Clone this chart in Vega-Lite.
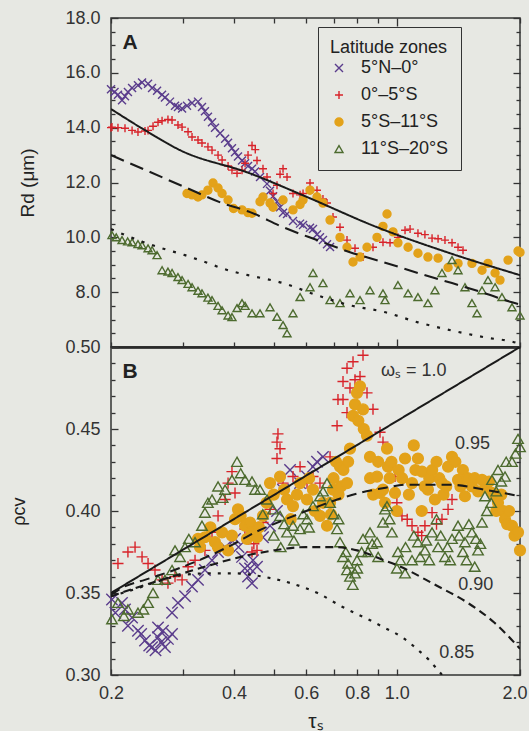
{
"$schema": "https://vega.github.io/schema/vega-lite/v6.json",
"background": "#e7e8e3",
"autosize": {"type": "none"},
"padding": {"left": 111, "top": 18, "right": 418, "bottom": 713},
"spacing": 0,
"bounds": "flush",
"config": {
  "font": "Liberation Sans",
  "view": {"stroke": "#333333", "strokeWidth": 1.5},
  "axis": {"grid": false, "domain": false, "tickColor": "#333333", "tickWidth": 1.3, "labelFont": "Liberation Sans", "labelFontSize": 18, "labelColor": "#333333", "titleFont": "Liberation Sans", "titleColor": "#222222", "titleFontWeight": "normal", "labelOverlap": false, "labelFlush": false},
  "legend": {"orient": "none", "legendX": 207, "legendY": 9, "padding": 12, "strokeColor": "#333333", "fillColor": "#e7e8e3", "titleFont": "Liberation Sans", "titleFontSize": 18, "titleFontWeight": "normal", "titleColor": "#222222", "labelFont": "Liberation Sans", "labelFontSize": 18, "labelColor": "#222222", "rowPadding": 9, "titlePadding": 2, "labelOffset": 13, "symbolStrokeWidth": 1.4}
},
"resolve": {"scale": {"shape": "independent", "stroke": "independent", "fill": "independent", "size": "independent", "strokeDash": "independent", "strokeWidth": "independent"}},
"datasets": {
"ptsA": [
{"z":"5°N–0°","t":0.2,"v":15.4},{"z":"5°N–0°","t":0.204,"v":15.3},{"z":"5°N–0°","t":0.208,"v":15.2},{"z":"5°N–0°","t":0.2128,"v":15.0},{"z":"5°N–0°","t":0.2164,"v":15.15},{"z":"5°N–0°","t":0.22,"v":15.3},{"z":"5°N–0°","t":0.2252,"v":15.45},{"z":"5°N–0°","t":0.2328,"v":15.55},{"z":"5°N–0°","t":0.2382,"v":15.65},{"z":"5°N–0°","t":0.2464,"v":15.6},{"z":"5°N–0°","t":0.252,"v":15.45},{"z":"5°N–0°","t":0.2592,"v":15.35},{"z":"5°N–0°","t":0.2666,"v":15.2},{"z":"5°N–0°","t":0.271,"v":15.1},{"z":"5°N–0°","t":0.2788,"v":14.95},{"z":"5°N–0°","t":0.2868,"v":14.8},{"z":"5°N–0°","t":0.2916,"v":14.75},{"z":"5°N–0°","t":0.2984,"v":14.7},{"z":"5°N–0°","t":0.3068,"v":14.8},{"z":"5°N–0°","t":0.3156,"v":14.9},{"z":"5°N–0°","t":0.3264,"v":14.95},{"z":"5°N–0°","t":0.3338,"v":14.75},{"z":"5°N–0°","t":0.3394,"v":14.6},{"z":"5°N–0°","t":0.3452,"v":14.4},{"z":"5°N–0°","t":0.3532,"v":14.2},{"z":"5°N–0°","t":0.3592,"v":14.0},{"z":"5°N–0°","t":0.3696,"v":13.8},{"z":"5°N–0°","t":0.3802,"v":13.6},{"z":"5°N–0°","t":0.3866,"v":13.45},{"z":"5°N–0°","t":0.3952,"v":13.25},{"z":"5°N–0°","t":0.402,"v":13.1},{"z":"5°N–0°","t":0.4088,"v":12.95},{"z":"5°N–0°","t":0.4182,"v":12.8},{"z":"5°N–0°","t":0.4254,"v":12.7},{"z":"5°N–0°","t":0.4326,"v":12.6},{"z":"5°N–0°","t":0.4424,"v":12.5},{"z":"5°N–0°","t":0.45,"v":12.4},{"z":"5°N–0°","t":0.4628,"v":12.2},{"z":"5°N–0°","t":0.4814,"v":11.95},{"z":"5°N–0°","t":0.4896,"v":11.7},{"z":"5°N–0°","t":0.498,"v":11.5},{"z":"5°N–0°","t":0.5092,"v":11.3},{"z":"5°N–0°","t":0.518,"v":11.1},{"z":"5°N–0°","t":0.5268,"v":10.9},{"z":"5°N–0°","t":0.5388,"v":10.85},{"z":"5°N–0°","t":0.5572,"v":10.6},{"z":"5°N–0°","t":0.5798,"v":10.5},{"z":"5°N–0°","t":0.5896,"v":10.45},{"z":"5°N–0°","t":0.6132,"v":10.35},{"z":"5°N–0°","t":0.6236,"v":10.3},{"z":"5°N–0°","t":0.6378,"v":10.1},{"z":"5°N–0°","t":0.6486,"v":10.0},{"z":"5°N–0°","t":0.6596,"v":9.9},{"z":"5°N–0°","t":0.6748,"v":9.75},{"z":"5°N–0°","t":0.6864,"v":9.65},
{"z":"0°–5°S","t":0.2,"v":14.0},{"z":"0°–5°S","t":0.2011,"v":14.02},{"z":"0°–5°S","t":0.208,"v":14.0},{"z":"0°–5°S","t":0.2164,"v":13.98},{"z":"0°–5°S","t":0.2252,"v":13.9},{"z":"0°–5°S","t":0.2328,"v":13.84},{"z":"0°–5°S","t":0.2422,"v":13.88},{"z":"0°–5°S","t":0.2464,"v":13.9},{"z":"0°–5°S","t":0.2534,"v":14.05},{"z":"0°–5°S","t":0.2606,"v":14.2},{"z":"0°–5°S","t":0.2666,"v":14.25},{"z":"0°–5°S","t":0.2756,"v":14.3},{"z":"0°–5°S","t":0.282,"v":14.28},{"z":"0°–5°S","t":0.2916,"v":14.1},{"z":"0°–5°S","t":0.2984,"v":14.02},{"z":"0°–5°S","t":0.3086,"v":13.85},{"z":"0°–5°S","t":0.3156,"v":13.66},{"z":"0°–5°S","t":0.3264,"v":13.55},{"z":"0°–5°S","t":0.3338,"v":13.44},{"z":"0°–5°S","t":0.3452,"v":13.3},{"z":"0°–5°S","t":0.3532,"v":13.18},{"z":"0°–5°S","t":0.3654,"v":13.0},{"z":"0°–5°S","t":0.3738,"v":12.82},{"z":"0°–5°S","t":0.3866,"v":12.6},{"z":"0°–5°S","t":0.3952,"v":12.45},{"z":"0°–5°S","t":0.4066,"v":12.34},{"z":"0°–5°S","t":0.4182,"v":12.45},{"z":"0°–5°S","t":0.4254,"v":12.7},{"z":"0°–5°S","t":0.4326,"v":13.0},{"z":"0°–5°S","t":0.4424,"v":13.35},{"z":"0°–5°S","t":0.4506,"v":13.2},{"z":"0°–5°S","t":0.455,"v":12.8},{"z":"0°–5°S","t":0.4706,"v":12.5},{"z":"0°–5°S","t":0.4814,"v":12.2},{"z":"0°–5°S","t":0.498,"v":11.6},{"z":"0°–5°S","t":0.5092,"v":11.9},{"z":"0°–5°S","t":0.518,"v":12.3},{"z":"0°–5°S","t":0.5268,"v":12.5},{"z":"0°–5°S","t":0.5388,"v":12.2},{"z":"0°–5°S","t":0.5572,"v":11.6},{"z":"0°–5°S","t":0.5798,"v":11.55},{"z":"0°–5°S","t":0.5896,"v":11.6},{"z":"0°–5°S","t":0.6132,"v":11.98},{"z":"0°–5°S","t":0.6378,"v":11.72},{"z":"0°–5°S","t":0.6596,"v":11.4},{"z":"0°–5°S","t":0.6748,"v":11.25},{"z":"0°–5°S","t":0.698,"v":10.74},{"z":"0°–5°S","t":0.726,"v":10.37},{"z":"0°–5°S","t":0.7552,"v":9.9},{"z":"0°–5°S","t":0.79,"v":9.6},{"z":"0°–5°S","t":0.8264,"v":9.28},{"z":"0°–5°S","t":0.8742,"v":9.64},{"z":"0°–5°S","t":0.9248,"v":9.82},{"z":"0°–5°S","t":0.9622,"v":9.8},{"z":"0°–5°S","t":1.006,"v":10.0},{"z":"0°–5°S","t":1.047,"v":10.26},{"z":"0°–5°S","t":1.077,"v":10.3},{"z":"0°–5°S","t":1.126,"v":10.15},{"z":"0°–5°S","t":1.171,"v":10.1},{"z":"0°–5°S","t":1.219,"v":9.97},{"z":"0°–5°S","t":1.261,"v":9.95},{"z":"0°–5°S","t":1.311,"v":9.9},{"z":"0°–5°S","t":1.364,"v":9.8},{"z":"0°–5°S","t":1.411,"v":9.64},{"z":"0°–5°S","t":1.451,"v":9.53},
{"z":"5°S–11°S","t":0.3068,"v":11.6},{"z":"5°S–11°S","t":0.3156,"v":11.55},{"z":"5°S–11°S","t":0.3264,"v":11.47},{"z":"5°S–11°S","t":0.3338,"v":11.55},{"z":"5°S–11°S","t":0.3452,"v":11.72},{"z":"5°S–11°S","t":0.3552,"v":11.98},{"z":"5°S–11°S","t":0.3654,"v":11.8},{"z":"5°S–11°S","t":0.3738,"v":11.6},{"z":"5°S–11°S","t":0.3866,"v":11.36},{"z":"5°S–11°S","t":0.3986,"v":11.05},{"z":"5°S–11°S","t":0.4182,"v":11.0},{"z":"5°S–11°S","t":0.4326,"v":10.9},{"z":"5°S–11°S","t":0.4424,"v":10.88},{"z":"5°S–11°S","t":0.4628,"v":11.3},{"z":"5°S–11°S","t":0.4706,"v":11.47},{"z":"5°S–11°S","t":0.4896,"v":11.25},{"z":"5°S–11°S","t":0.498,"v":11.1},{"z":"5°S–11°S","t":0.5268,"v":11.36},{"z":"5°S–11°S","t":0.5572,"v":11.0},{"z":"5°S–11°S","t":0.5798,"v":11.2},{"z":"5°S–11°S","t":0.5896,"v":11.36},{"z":"5°S–11°S","t":0.6132,"v":11.72},{"z":"5°S–11°S","t":0.6378,"v":11.47},{"z":"5°S–11°S","t":0.6596,"v":11.25},{"z":"5°S–11°S","t":0.6864,"v":10.63},{"z":"5°S–11°S","t":0.726,"v":10.0},{"z":"5°S–11°S","t":0.7552,"v":9.64},{"z":"5°S–11°S","t":0.7812,"v":9.1},{"z":"5°S–11°S","t":0.8126,"v":9.28},{"z":"5°S–11°S","t":0.8452,"v":9.64},{"z":"5°S–11°S","t":0.8942,"v":10.0},{"z":"5°S–11°S","t":0.9248,"v":10.4},{"z":"5°S–11°S","t":0.946,"v":10.85},{"z":"5°S–11°S","t":0.9784,"v":10.2},{"z":"5°S–11°S","t":1.006,"v":9.8},{"z":"5°S–11°S","t":1.065,"v":9.64},{"z":"5°S–11°S","t":1.126,"v":9.42},{"z":"5°S–11°S","t":1.191,"v":9.28},{"z":"5°S–11°S","t":1.261,"v":9.24},{"z":"5°S–11°S","t":1.334,"v":8.9},{"z":"5°S–11°S","t":1.411,"v":9.05},{"z":"5°S–11°S","t":1.526,"v":9.05},{"z":"5°S–11°S","t":1.615,"v":8.8},{"z":"5°S–11°S","t":1.67,"v":9.05},{"z":"5°S–11°S","t":1.738,"v":8.7},{"z":"5°S–11°S","t":1.787,"v":8.44},{"z":"5°S–11°S","t":1.87,"v":9.17},{"z":"5°S–11°S","t":1.978,"v":9.5},{"z":"5°S–11°S","t":2.0,"v":9.45},
{"z":"11°S–20°S","t":0.2011,"v":10.08},{"z":"11°S–20°S","t":0.206,"v":10.0},{"z":"11°S–20°S","t":0.2128,"v":9.9},{"z":"11°S–20°S","t":0.2196,"v":9.85},{"z":"11°S–20°S","t":0.2252,"v":9.82},{"z":"11°S–20°S","t":0.2328,"v":9.75},{"z":"11°S–20°S","t":0.2382,"v":9.71},{"z":"11°S–20°S","t":0.2464,"v":9.6},{"z":"11°S–20°S","t":0.252,"v":9.53},{"z":"11°S–20°S","t":0.2592,"v":9.35},{"z":"11°S–20°S","t":0.2666,"v":8.8},{"z":"11°S–20°S","t":0.2756,"v":8.75},{"z":"11°S–20°S","t":0.282,"v":8.7},{"z":"11°S–20°S","t":0.2916,"v":8.55},{"z":"11°S–20°S","t":0.2984,"v":8.44},{"z":"11°S–20°S","t":0.3086,"v":8.3},{"z":"11°S–20°S","t":0.3156,"v":8.18},{"z":"11°S–20°S","t":0.3264,"v":8.05},{"z":"11°S–20°S","t":0.3338,"v":7.96},{"z":"11°S–20°S","t":0.3452,"v":7.8},{"z":"11°S–20°S","t":0.3532,"v":7.71},{"z":"11°S–20°S","t":0.3654,"v":7.5},{"z":"11°S–20°S","t":0.3738,"v":7.34},{"z":"11°S–20°S","t":0.3866,"v":7.15},{"z":"11°S–20°S","t":0.3952,"v":7.09},{"z":"11°S–20°S","t":0.4066,"v":7.42},{"z":"11°S–20°S","t":0.4182,"v":7.6},{"z":"11°S–20°S","t":0.4254,"v":7.5},{"z":"11°S–20°S","t":0.4424,"v":7.23},{"z":"11°S–20°S","t":0.4628,"v":7.23},{"z":"11°S–20°S","t":0.4896,"v":7.45},{"z":"11°S–20°S","t":0.5092,"v":7.1},{"z":"11°S–20°S","t":0.5268,"v":6.8},{"z":"11°S–20°S","t":0.5388,"v":6.5},{"z":"11°S–20°S","t":0.5572,"v":7.23},{"z":"11°S–20°S","t":0.5798,"v":7.82},{"z":"11°S–20°S","t":0.6132,"v":8.18},{"z":"11°S–20°S","t":0.6236,"v":8.7},{"z":"11°S–20°S","t":0.6596,"v":8.33},{"z":"11°S–20°S","t":0.6864,"v":7.71},{"z":"11°S–20°S","t":0.726,"v":7.6},{"z":"11°S–20°S","t":0.768,"v":7.96},{"z":"11°S–20°S","t":0.8126,"v":7.71},{"z":"11°S–20°S","t":0.8596,"v":8.07},{"z":"11°S–20°S","t":0.9248,"v":7.96},{"z":"11°S–20°S","t":0.9354,"v":7.71},{"z":"11°S–20°S","t":1.006,"v":8.26},{"z":"11°S–20°S","t":1.065,"v":7.96},{"z":"11°S–20°S","t":1.126,"v":7.82},{"z":"11°S–20°S","t":1.191,"v":7.6},{"z":"11°S–20°S","t":1.239,"v":8.07},{"z":"11°S–20°S","t":1.289,"v":8.7},{"z":"11°S–20°S","t":1.364,"v":9.17},{"z":"11°S–20°S","t":1.411,"v":8.8},{"z":"11°S–20°S","t":1.467,"v":8.18},{"z":"11°S–20°S","t":1.526,"v":7.6},{"z":"11°S–20°S","t":1.57,"v":7.23},{"z":"11°S–20°S","t":1.615,"v":8.07},{"z":"11°S–20°S","t":1.67,"v":8.44},{"z":"11°S–20°S","t":1.738,"v":8.18},{"z":"11°S–20°S","t":1.807,"v":7.82},{"z":"11°S–20°S","t":1.912,"v":7.45},{"z":"11°S–20°S","t":2.0,"v":7.15}
],
"linA": [
{"k":"s","t":0.2,"v":14.68},{"k":"s","t":0.242,"v":13.91},{"k":"s","t":0.295,"v":13.18},{"k":"s","t":0.436,"v":12.34},{"k":"s","t":0.603,"v":11.47},{"k":"s","t":0.894,"v":10.37},{"k":"s","t":1.349,"v":9.42},{"k":"s","t":2.0,"v":8.62},
{"k":"d","t":0.2,"v":13.0},{"k":"d","t":0.3034,"v":11.83},{"k":"d","t":0.3738,"v":11.25},{"k":"d","t":0.4376,"v":10.92},{"k":"d","t":0.5268,"v":10.37},{"k":"d","t":0.6378,"v":9.9},{"k":"d","t":0.768,"v":9.46},{"k":"d","t":0.9248,"v":9.1},{"k":"d","t":1.126,"v":8.7},{"k":"d","t":1.364,"v":8.33},{"k":"d","t":1.642,"v":7.96},{"k":"d","t":1.912,"v":7.63},{"k":"d","t":2.0,"v":7.55},
{"k":"o","t":0.2,"v":10.3},{"k":"o","t":0.2328,"v":9.9},{"k":"o","t":0.2666,"v":9.6},{"k":"o","t":0.3034,"v":9.35},{"k":"o","t":0.3394,"v":9.1},{"k":"o","t":0.3866,"v":8.8},{"k":"o","t":0.4326,"v":8.62},{"k":"o","t":0.5268,"v":8.33},{"k":"o","t":0.6378,"v":7.89},{"k":"o","t":0.768,"v":7.52},{"k":"o","t":0.93,"v":7.28},{"k":"o","t":1.126,"v":6.9},{"k":"o","t":1.364,"v":6.6},{"k":"o","t":1.642,"v":6.35},{"k":"o","t":1.978,"v":6.13},{"k":"o","t":2.0,"v":6.1}
],
"ptsB": [
{"z":"5°N–0°","t":0.2011,"v":0.346},{"z":"5°N–0°","t":0.205,"v":0.338},{"z":"5°N–0°","t":0.2128,"v":0.344},{"z":"5°N–0°","t":0.2164,"v":0.34},{"z":"5°N–0°","t":0.22,"v":0.33},{"z":"5°N–0°","t":0.2252,"v":0.335},{"z":"5°N–0°","t":0.2328,"v":0.327},{"z":"5°N–0°","t":0.237,"v":0.325},{"z":"5°N–0°","t":0.2422,"v":0.321},{"z":"5°N–0°","t":0.248,"v":0.318},{"z":"5°N–0°","t":0.252,"v":0.317},{"z":"5°N–0°","t":0.257,"v":0.315},{"z":"5°N–0°","t":0.2606,"v":0.323},{"z":"5°N–0°","t":0.2606,"v":0.329},{"z":"5°N–0°","t":0.265,"v":0.32},{"z":"5°N–0°","t":0.268,"v":0.327},{"z":"5°N–0°","t":0.271,"v":0.317},{"z":"5°N–0°","t":0.2756,"v":0.322},{"z":"5°N–0°","t":0.282,"v":0.325},{"z":"5°N–0°","t":0.282,"v":0.338},{"z":"5°N–0°","t":0.2916,"v":0.344},{"z":"5°N–0°","t":0.3034,"v":0.348},{"z":"5°N–0°","t":0.3156,"v":0.354},{"z":"5°N–0°","t":0.3264,"v":0.358},{"z":"5°N–0°","t":0.3394,"v":0.364},{"z":"5°N–0°","t":0.3532,"v":0.37},{"z":"5°N–0°","t":0.3654,"v":0.375},{"z":"5°N–0°","t":0.3802,"v":0.378},{"z":"5°N–0°","t":0.402,"v":0.383},{"z":"5°N–0°","t":0.41,"v":0.378},{"z":"5°N–0°","t":0.4182,"v":0.372},{"z":"5°N–0°","t":0.425,"v":0.365},{"z":"5°N–0°","t":0.4326,"v":0.36},{"z":"5°N–0°","t":0.4424,"v":0.356},{"z":"5°N–0°","t":0.4376,"v":0.365},{"z":"5°N–0°","t":0.445,"v":0.37},{"z":"5°N–0°","t":0.455,"v":0.366},{"z":"5°N–0°","t":0.4706,"v":0.384},{"z":"5°N–0°","t":0.4896,"v":0.391},{"z":"5°N–0°","t":0.5092,"v":0.4},{"z":"5°N–0°","t":0.5268,"v":0.413},{"z":"5°N–0°","t":0.548,"v":0.425},{"z":"5°N–0°","t":0.5798,"v":0.417},{"z":"5°N–0°","t":0.603,"v":0.421},{"z":"5°N–0°","t":0.6236,"v":0.427},{"z":"5°N–0°","t":0.6378,"v":0.43},{"z":"5°N–0°","t":0.6596,"v":0.433},
{"z":"0°–5°S","t":0.208,"v":0.368},{"z":"0°–5°S","t":0.22,"v":0.375},{"z":"0°–5°S","t":0.229,"v":0.378},{"z":"0°–5°S","t":0.2382,"v":0.372},{"z":"0°–5°S","t":0.2464,"v":0.368},{"z":"0°–5°S","t":0.2562,"v":0.364},{"z":"0°–5°S","t":0.2666,"v":0.358},{"z":"0°–5°S","t":0.2756,"v":0.356},{"z":"0°–5°S","t":0.2868,"v":0.36},{"z":"0°–5°S","t":0.2984,"v":0.358},{"z":"0°–5°S","t":0.3086,"v":0.366},{"z":"0°–5°S","t":0.321,"v":0.37},{"z":"0°–5°S","t":0.3394,"v":0.376},{"z":"0°–5°S","t":0.3532,"v":0.387},{"z":"0°–5°S","t":0.3654,"v":0.397},{"z":"0°–5°S","t":0.3802,"v":0.407},{"z":"0°–5°S","t":0.3866,"v":0.417},{"z":"0°–5°S","t":0.3952,"v":0.424},{"z":"0°–5°S","t":0.402,"v":0.411},{"z":"0°–5°S","t":0.4182,"v":0.395},{"z":"0°–5°S","t":0.425,"v":0.389},{"z":"0°–5°S","t":0.4326,"v":0.383},{"z":"0°–5°S","t":0.4424,"v":0.375},{"z":"0°–5°S","t":0.4376,"v":0.384},{"z":"0°–5°S","t":0.447,"v":0.38},{"z":"0°–5°S","t":0.455,"v":0.376},{"z":"0°–5°S","t":0.4706,"v":0.393},{"z":"0°–5°S","t":0.4896,"v":0.401},{"z":"0°–5°S","t":0.5092,"v":0.432},{"z":"0°–5°S","t":0.5092,"v":0.442},{"z":"0°–5°S","t":0.512,"v":0.447},{"z":"0°–5°S","t":0.518,"v":0.438},{"z":"0°–5°S","t":0.5268,"v":0.417},{"z":"0°–5°S","t":0.5572,"v":0.421},{"z":"0°–5°S","t":0.5798,"v":0.427},{"z":"0°–5°S","t":0.603,"v":0.417},{"z":"0°–5°S","t":0.6236,"v":0.421},{"z":"0°–5°S","t":0.6486,"v":0.417},{"z":"0°–5°S","t":0.6864,"v":0.433},{"z":"0°–5°S","t":0.714,"v":0.452},{"z":"0°–5°S","t":0.7178,"v":0.468},{"z":"0°–5°S","t":0.7384,"v":0.479},{"z":"0°–5°S","t":0.7384,"v":0.468},{"z":"0°–5°S","t":0.7552,"v":0.487},{"z":"0°–5°S","t":0.7552,"v":0.46},{"z":"0°–5°S","t":0.768,"v":0.475},{"z":"0°–5°S","t":0.7812,"v":0.491},{"z":"0°–5°S","t":0.79,"v":0.48},{"z":"0°–5°S","t":0.8126,"v":0.482},{"z":"0°–5°S","t":0.8264,"v":0.495},{"z":"0°–5°S","t":0.8452,"v":0.472},{"z":"0°–5°S","t":0.8742,"v":0.462},{"z":"0°–5°S","t":0.9094,"v":0.448},{"z":"0°–5°S","t":0.9248,"v":0.442},{"z":"0°–5°S","t":0.9514,"v":0.427},{"z":"0°–5°S","t":0.9894,"v":0.421},{"z":"0°–5°S","t":1.0,"v":0.405},{"z":"0°–5°S","t":1.029,"v":0.397},{"z":"0°–5°S","t":1.06,"v":0.395},{"z":"0°–5°S","t":1.089,"v":0.391},{"z":"0°–5°S","t":1.126,"v":0.387},{"z":"0°–5°S","t":1.15,"v":0.385},{"z":"0°–5°S","t":1.171,"v":0.391},{"z":"0°–5°S","t":1.219,"v":0.399},{"z":"0°–5°S","t":1.25,"v":0.392},{"z":"0°–5°S","t":1.289,"v":0.395},{"z":"0°–5°S","t":1.334,"v":0.401},{"z":"0°–5°S","t":1.364,"v":0.407},
{"z":"5°S–11°S","t":0.3264,"v":0.383},{"z":"5°S–11°S","t":0.33,"v":0.378},{"z":"5°S–11°S","t":0.3394,"v":0.384},{"z":"5°S–11°S","t":0.35,"v":0.39},{"z":"5°S–11°S","t":0.3592,"v":0.381},{"z":"5°S–11°S","t":0.365,"v":0.378},{"z":"5°S–11°S","t":0.3738,"v":0.387},{"z":"5°S–11°S","t":0.3866,"v":0.376},{"z":"5°S–11°S","t":0.395,"v":0.385},{"z":"5°S–11°S","t":0.402,"v":0.395},{"z":"5°S–11°S","t":0.4088,"v":0.401},{"z":"5°S–11°S","t":0.415,"v":0.397},{"z":"5°S–11°S","t":0.4254,"v":0.391},{"z":"5°S–11°S","t":0.43,"v":0.383},{"z":"5°S–11°S","t":0.4376,"v":0.393},{"z":"5°S–11°S","t":0.4424,"v":0.387},{"z":"5°S–11°S","t":0.455,"v":0.384},{"z":"5°S–11°S","t":0.46,"v":0.39},{"z":"5°S–11°S","t":0.4706,"v":0.397},{"z":"5°S–11°S","t":0.48,"v":0.405},{"z":"5°S–11°S","t":0.4896,"v":0.417},{"z":"5°S–11°S","t":0.5,"v":0.41},{"z":"5°S–11°S","t":0.518,"v":0.421},{"z":"5°S–11°S","t":0.53,"v":0.413},{"z":"5°S–11°S","t":0.5388,"v":0.407},{"z":"5°S–11°S","t":0.55,"v":0.395},{"z":"5°S–11°S","t":0.5572,"v":0.403},{"z":"5°S–11°S","t":0.57,"v":0.41},{"z":"5°S–11°S","t":0.5798,"v":0.417},{"z":"5°S–11°S","t":0.603,"v":0.407},{"z":"5°S–11°S","t":0.61,"v":0.42},{"z":"5°S–11°S","t":0.6236,"v":0.413},{"z":"5°S–11°S","t":0.63,"v":0.4},{"z":"5°S–11°S","t":0.6486,"v":0.397},{"z":"5°S–11°S","t":0.66,"v":0.405},{"z":"5°S–11°S","t":0.6748,"v":0.391},{"z":"5°S–11°S","t":0.6864,"v":0.405},{"z":"5°S–11°S","t":0.69,"v":0.398},{"z":"5°S–11°S","t":0.698,"v":0.413},{"z":"5°S–11°S","t":0.7,"v":0.42},{"z":"5°S–11°S","t":0.71,"v":0.43},{"z":"5°S–11°S","t":0.72,"v":0.41},{"z":"5°S–11°S","t":0.726,"v":0.427},{"z":"5°S–11°S","t":0.73,"v":0.415},{"z":"5°S–11°S","t":0.74,"v":0.425},{"z":"5°S–11°S","t":0.7552,"v":0.417},{"z":"5°S–11°S","t":0.76,"v":0.43},{"z":"5°S–11°S","t":0.768,"v":0.438},{"z":"5°S–11°S","t":0.7812,"v":0.458},{"z":"5°S–11°S","t":0.79,"v":0.465},{"z":"5°S–11°S","t":0.799,"v":0.472},{"z":"5°S–11°S","t":0.805,"v":0.455},{"z":"5°S–11°S","t":0.8126,"v":0.476},{"z":"5°S–11°S","t":0.8264,"v":0.462},{"z":"5°S–11°S","t":0.83,"v":0.45},{"z":"5°S–11°S","t":0.8452,"v":0.446},{"z":"5°S–11°S","t":0.8596,"v":0.433},{"z":"5°S–11°S","t":0.86,"v":0.42},{"z":"5°S–11°S","t":0.875,"v":0.41},{"z":"5°S–11°S","t":0.8942,"v":0.421},{"z":"5°S–11°S","t":0.9,"v":0.43},{"z":"5°S–11°S","t":0.9094,"v":0.411},{"z":"5°S–11°S","t":0.9248,"v":0.413},{"z":"5°S–11°S","t":0.9354,"v":0.405},{"z":"5°S–11°S","t":0.946,"v":0.438},{"z":"5°S–11°S","t":0.9514,"v":0.427},{"z":"5°S–11°S","t":0.96,"v":0.42},{"z":"5°S–11°S","t":0.97,"v":0.43},{"z":"5°S–11°S","t":0.9894,"v":0.411},{"z":"5°S–11°S","t":1.0,"v":0.4},{"z":"5°S–11°S","t":1.01,"v":0.425},{"z":"5°S–11°S","t":1.03,"v":0.42},{"z":"5°S–11°S","t":1.047,"v":0.432},{"z":"5°S–11°S","t":1.07,"v":0.41},{"z":"5°S–11°S","t":1.089,"v":0.417},{"z":"5°S–11°S","t":1.1,"v":0.44},{"z":"5°S–11°S","t":1.11,"v":0.425},{"z":"5°S–11°S","t":1.126,"v":0.432},{"z":"5°S–11°S","t":1.15,"v":0.4},{"z":"5°S–11°S","t":1.152,"v":0.424},{"z":"5°S–11°S","t":1.17,"v":0.415},{"z":"5°S–11°S","t":1.191,"v":0.413},{"z":"5°S–11°S","t":1.2,"v":0.42},{"z":"5°S–11°S","t":1.22,"v":0.425},{"z":"5°S–11°S","t":1.239,"v":0.407},{"z":"5°S–11°S","t":1.25,"v":0.43},{"z":"5°S–11°S","t":1.27,"v":0.42},{"z":"5°S–11°S","t":1.289,"v":0.417},{"z":"5°S–11°S","t":1.3,"v":0.41},{"z":"5°S–11°S","t":1.32,"v":0.415},{"z":"5°S–11°S","t":1.334,"v":0.427},{"z":"5°S–11°S","t":1.364,"v":0.433},{"z":"5°S–11°S","t":1.39,"v":0.43},{"z":"5°S–11°S","t":1.411,"v":0.419},{"z":"5°S–11°S","t":1.43,"v":0.415},{"z":"5°S–11°S","t":1.45,"v":0.425},{"z":"5°S–11°S","t":1.467,"v":0.409},{"z":"5°S–11°S","t":1.49,"v":0.42},{"z":"5°S–11°S","t":1.526,"v":0.415},{"z":"5°S–11°S","t":1.55,"v":0.42},{"z":"5°S–11°S","t":1.58,"v":0.412},{"z":"5°S–11°S","t":1.615,"v":0.419},{"z":"5°S–11°S","t":1.65,"v":0.415},{"z":"5°S–11°S","t":1.68,"v":0.418},{"z":"5°S–11°S","t":1.708,"v":0.411},{"z":"5°S–11°S","t":1.73,"v":0.41},{"z":"5°S–11°S","t":1.75,"v":0.4},{"z":"5°S–11°S","t":1.767,"v":0.405},{"z":"5°S–11°S","t":1.8,"v":0.41},{"z":"5°S–11°S","t":1.82,"v":0.4},{"z":"5°S–11°S","t":1.838,"v":0.395},{"z":"5°S–11°S","t":1.86,"v":0.392},{"z":"5°S–11°S","t":1.88,"v":0.4},{"z":"5°S–11°S","t":1.912,"v":0.391},{"z":"5°S–11°S","t":1.94,"v":0.385},{"z":"5°S–11°S","t":1.978,"v":0.387},{"z":"5°S–11°S","t":2.0,"v":0.376},
{"z":"11°S–20°S","t":0.2011,"v":0.334},{"z":"11°S–20°S","t":0.208,"v":0.344},{"z":"11°S–20°S","t":0.215,"v":0.336},{"z":"11°S–20°S","t":0.22,"v":0.34},{"z":"11°S–20°S","t":0.2328,"v":0.338},{"z":"11°S–20°S","t":0.24,"v":0.34},{"z":"11°S–20°S","t":0.2464,"v":0.344},{"z":"11°S–20°S","t":0.2534,"v":0.35},{"z":"11°S–20°S","t":0.2606,"v":0.358},{"z":"11°S–20°S","t":0.271,"v":0.358},{"z":"11°S–20°S","t":0.282,"v":0.364},{"z":"11°S–20°S","t":0.2868,"v":0.376},{"z":"11°S–20°S","t":0.295,"v":0.372},{"z":"11°S–20°S","t":0.3034,"v":0.378},{"z":"11°S–20°S","t":0.31,"v":0.383},{"z":"11°S–20°S","t":0.321,"v":0.381},{"z":"11°S–20°S","t":0.3338,"v":0.391},{"z":"11°S–20°S","t":0.3394,"v":0.399},{"z":"11°S–20°S","t":0.345,"v":0.405},{"z":"11°S–20°S","t":0.3532,"v":0.407},{"z":"11°S–20°S","t":0.3654,"v":0.415},{"z":"11°S–20°S","t":0.375,"v":0.408},{"z":"11°S–20°S","t":0.3802,"v":0.413},{"z":"11°S–20°S","t":0.3952,"v":0.419},{"z":"11°S–20°S","t":0.4066,"v":0.43},{"z":"11°S–20°S","t":0.415,"v":0.423},{"z":"11°S–20°S","t":0.4254,"v":0.419},{"z":"11°S–20°S","t":0.4424,"v":0.418},{"z":"11°S–20°S","t":0.45,"v":0.413},{"z":"11°S–20°S","t":0.4628,"v":0.413},{"z":"11°S–20°S","t":0.47,"v":0.398},{"z":"11°S–20°S","t":0.4814,"v":0.407},{"z":"11°S–20°S","t":0.498,"v":0.401},{"z":"11°S–20°S","t":0.5,"v":0.385},{"z":"11°S–20°S","t":0.518,"v":0.397},{"z":"11°S–20°S","t":0.52,"v":0.378},{"z":"11°S–20°S","t":0.53,"v":0.392},{"z":"11°S–20°S","t":0.5388,"v":0.387},{"z":"11°S–20°S","t":0.5572,"v":0.391},{"z":"11°S–20°S","t":0.56,"v":0.382},{"z":"11°S–20°S","t":0.5798,"v":0.389},{"z":"11°S–20°S","t":0.59,"v":0.398},{"z":"11°S–20°S","t":0.603,"v":0.395},{"z":"11°S–20°S","t":0.61,"v":0.39},{"z":"11°S–20°S","t":0.6236,"v":0.403},{"z":"11°S–20°S","t":0.6486,"v":0.409},{"z":"11°S–20°S","t":0.66,"v":0.412},{"z":"11°S–20°S","t":0.6748,"v":0.417},{"z":"11°S–20°S","t":0.6864,"v":0.405},{"z":"11°S–20°S","t":0.7,"v":0.398},{"z":"11°S–20°S","t":0.714,"v":0.389},{"z":"11°S–20°S","t":0.72,"v":0.395},{"z":"11°S–20°S","t":0.726,"v":0.381},{"z":"11°S–20°S","t":0.7384,"v":0.372},{"z":"11°S–20°S","t":0.75,"v":0.375},{"z":"11°S–20°S","t":0.7552,"v":0.364},{"z":"11°S–20°S","t":0.76,"v":0.368},{"z":"11°S–20°S","t":0.768,"v":0.36},{"z":"11°S–20°S","t":0.78,"v":0.355},{"z":"11°S–20°S","t":0.79,"v":0.362},{"z":"11°S–20°S","t":0.799,"v":0.37},{"z":"11°S–20°S","t":0.8,"v":0.365},{"z":"11°S–20°S","t":0.82,"v":0.375},{"z":"11°S–20°S","t":0.8264,"v":0.383},{"z":"11°S–20°S","t":0.85,"v":0.375},{"z":"11°S–20°S","t":0.8596,"v":0.387},{"z":"11°S–20°S","t":0.87,"v":0.38},{"z":"11°S–20°S","t":0.8942,"v":0.381},{"z":"11°S–20°S","t":0.9,"v":0.372},{"z":"11°S–20°S","t":0.9248,"v":0.393},{"z":"11°S–20°S","t":0.9354,"v":0.401},{"z":"11°S–20°S","t":0.946,"v":0.403},{"z":"11°S–20°S","t":0.96,"v":0.395},{"z":"11°S–20°S","t":0.9728,"v":0.387},{"z":"11°S–20°S","t":1.0,"v":0.365},{"z":"11°S–20°S","t":1.006,"v":0.375},{"z":"11°S–20°S","t":1.02,"v":0.37},{"z":"11°S–20°S","t":1.047,"v":0.362},{"z":"11°S–20°S","t":1.05,"v":0.378},{"z":"11°S–20°S","t":1.089,"v":0.37},{"z":"11°S–20°S","t":1.1,"v":0.385},{"z":"11°S–20°S","t":1.126,"v":0.381},{"z":"11°S–20°S","t":1.14,"v":0.372},{"z":"11°S–20°S","t":1.171,"v":0.376},{"z":"11°S–20°S","t":1.18,"v":0.382},{"z":"11°S–20°S","t":1.2,"v":0.37},{"z":"11°S–20°S","t":1.219,"v":0.387},{"z":"11°S–20°S","t":1.25,"v":0.395},{"z":"11°S–20°S","t":1.261,"v":0.378},{"z":"11°S–20°S","t":1.28,"v":0.385},{"z":"11°S–20°S","t":1.311,"v":0.372},{"z":"11°S–20°S","t":1.33,"v":0.378},{"z":"11°S–20°S","t":1.35,"v":0.37},{"z":"11°S–20°S","t":1.364,"v":0.383},{"z":"11°S–20°S","t":1.411,"v":0.391},{"z":"11°S–20°S","t":1.42,"v":0.385},{"z":"11°S–20°S","t":1.45,"v":0.375},{"z":"11°S–20°S","t":1.467,"v":0.381},{"z":"11°S–20°S","t":1.48,"v":0.37},{"z":"11°S–20°S","t":1.5,"v":0.392},{"z":"11°S–20°S","t":1.526,"v":0.387},{"z":"11°S–20°S","t":1.55,"v":0.366},{"z":"11°S–20°S","t":1.56,"v":0.383},{"z":"11°S–20°S","t":1.579,"v":0.376},{"z":"11°S–20°S","t":1.6,"v":0.38},{"z":"11°S–20°S","t":1.615,"v":0.393},{"z":"11°S–20°S","t":1.642,"v":0.409},{"z":"11°S–20°S","t":1.66,"v":0.4},{"z":"11°S–20°S","t":1.7,"v":0.405},{"z":"11°S–20°S","t":1.708,"v":0.419},{"z":"11°S–20°S","t":1.75,"v":0.412},{"z":"11°S–20°S","t":1.767,"v":0.425},{"z":"11°S–20°S","t":1.8,"v":0.418},{"z":"11°S–20°S","t":1.838,"v":0.421},{"z":"11°S–20°S","t":1.85,"v":0.43},{"z":"11°S–20°S","t":1.912,"v":0.43},{"z":"11°S–20°S","t":1.95,"v":0.435},{"z":"11°S–20°S","t":1.978,"v":0.444},{"z":"11°S–20°S","t":2.0,"v":0.439}
],
"linB": [
{"k":"w10","t":0.2,"v":0.35},{"k":"w10","t":2.0,"v":0.5},
{"k":"w95","t":0.2,"v":0.349},{"k":"w95","t":0.216,"v":0.354},{"k":"w95","t":0.242,"v":0.358},{"k":"w95","t":0.3,"v":0.366},{"k":"w95","t":0.35,"v":0.373},{"k":"w95","t":0.4,"v":0.38},{"k":"w95","t":0.45,"v":0.387},{"k":"w95","t":0.5,"v":0.392},{"k":"w95","t":0.6,"v":0.4},{"k":"w95","t":0.715,"v":0.407},{"k":"w95","t":0.842,"v":0.412},{"k":"w95","t":0.93,"v":0.414},{"k":"w95","t":1.05,"v":0.416},{"k":"w95","t":1.35,"v":0.416},{"k":"w95","t":1.64,"v":0.413},{"k":"w95","t":2.0,"v":0.409},
{"k":"w90","t":0.2,"v":0.348},{"k":"w90","t":0.25,"v":0.356},{"k":"w90","t":0.3,"v":0.362},{"k":"w90","t":0.35,"v":0.367},{"k":"w90","t":0.4,"v":0.371},{"k":"w90","t":0.5,"v":0.376},{"k":"w90","t":0.6,"v":0.378},{"k":"w90","t":0.7,"v":0.378},{"k":"w90","t":0.8,"v":0.376},{"k":"w90","t":0.93,"v":0.37},{"k":"w90","t":1.0,"v":0.367},{"k":"w90","t":1.24,"v":0.355},{"k":"w90","t":1.49,"v":0.344},{"k":"w90","t":1.73,"v":0.332},{"k":"w90","t":2.0,"v":0.316},
{"k":"w85","t":0.2,"v":0.348},{"k":"w85","t":0.233,"v":0.353},{"k":"w85","t":0.26,"v":0.357},{"k":"w85","t":0.3,"v":0.361},{"k":"w85","t":0.35,"v":0.362},{"k":"w85","t":0.4,"v":0.362},{"k":"w85","t":0.47,"v":0.36},{"k":"w85","t":0.55,"v":0.356},{"k":"w85","t":0.64,"v":0.35},{"k":"w85","t":0.73,"v":0.342},{"k":"w85","t":0.85,"v":0.334},{"k":"w85","t":0.93,"v":0.329},{"k":"w85","t":1.03,"v":0.323},{"k":"w85","t":1.13,"v":0.315},{"k":"w85","t":1.2,"v":0.309},{"k":"w85","t":1.26,"v":0.303},{"k":"w85","t":1.33,"v":0.296}
]
},
"vconcat": [
{
 "width": 409, "height": 329,
 "layer": [
  {"data": {"name": "ptsA"},
   "mark": {"type": "point", "opacity": 1, "strokeWidth": 1.4},
   "encoding": {
    "x": {"field": "t", "type": "quantitative", "scale": {"type": "log", "domain": [0.2, 2], "nice": false},
          "axis": {"orient": "bottom", "values": [0.2,0.3,0.4,0.5,0.6,0.7,0.8,0.9,1,2], "labels": false, "title": null, "domain": true, "domainWidth": 2.5, "domainColor": "#111111", "tickSize": {"condition": {"test": "datum.value==1", "value": -8}, "value": -5}}},
    "y": {"field": "v", "type": "quantitative", "scale": {"domain": [6, 18], "nice": false, "zero": false},
          "axis": {"orient": "left", "values": [6,6.5,7,7.5,8,8.5,9,9.5,10,10.5,11,11.5,12,12.5,13,13.5,14,14.5,15,15.5,16,16.5,17,17.5,18], "labelExpr": "datum.value>=8 && datum.value%2==0 ? format(datum.value,'.1f') : ''", "tickSize": {"condition": {"test": "datum.value%2==0", "value": -7}, "value": -4}, "labelPadding": 18, "title": "Rd (μm)", "titleFontSize": 19, "titlePadding": 27}},
    "shape": {"field": "z", "type": "nominal", "scale": {"domain": ["5°N–0°","0°–5°S","5°S–11°S","11°S–20°S"], "range": ["M-1,-1L1,1M-1,1L1,-1","M-1,0L1,0M0,-1L0,1","circle","triangle-up"]}, "legend": {"title": "Latitude zones"}},
    "stroke": {"field": "z", "type": "nominal", "scale": {"domain": ["5°N–0°","0°–5°S","5°S–11°S","11°S–20°S"], "range": ["#5a3c8c","#d8232a","#e3a21a","#4d6b2f"]}, "legend": {"title": "Latitude zones"}},
    "fill": {"field": "z", "type": "nominal", "scale": {"domain": ["5°N–0°","0°–5°S","5°S–11°S","11°S–20°S"], "range": ["transparent","transparent","#e3a21a","transparent"]}, "legend": {"title": "Latitude zones"}},
    "size": {"field": "z", "type": "nominal", "scale": {"domain": ["5°N–0°","0°–5°S","5°S–11°S","11°S–20°S"], "range": [64,64,60,28]}, "legend": {"title": "Latitude zones"}}
   }},
  {"data": {"name": "linA"},
   "mark": {"type": "line", "color": "#1a1a1a", "clip": true, "interpolate": "monotone", "strokeCap": "butt"},
   "encoding": {
    "x": {"field": "t", "type": "quantitative", "scale": {"type": "log", "domain": [0.2, 2], "nice": false},
          "axis": {"orient": "top", "values": [0.2,0.3,0.4,0.5,0.6,0.7,0.8,0.9,1,2], "labels": false, "title": null, "tickSize": {"condition": {"test": "datum.value==1", "value": -8}, "value": -5}}},
    "y": {"field": "v", "type": "quantitative", "scale": {"domain": [6, 18], "nice": false, "zero": false},
          "axis": {"orient": "right", "values": [6,6.5,7,7.5,8,8.5,9,9.5,10,10.5,11,11.5,12,12.5,13,13.5,14,14.5,15,15.5,16,16.5,17,17.5,18], "labels": false, "title": null, "tickSize": {"condition": {"test": "datum.value%2==0", "value": -7}, "value": -4}}},
    "detail": {"field": "k"},
    "strokeDash": {"field": "k", "type": "nominal", "scale": {"domain": ["s","d","o"], "range": [[1,0],[14,7],[3,8]]}, "legend": null},
    "strokeWidth": {"field": "k", "type": "nominal", "scale": {"domain": ["s","d","o"], "range": [2,2.2,3.5]}, "legend": null}
   }},
  {"data": {"values": [{}]},
   "mark": {"type": "text", "text": "A", "fontSize": 21, "fontWeight": "bold", "color": "#222222", "align": "center", "baseline": "middle"},
   "encoding": {"x": {"datum": 0.2226, "type": "quantitative", "axis": null}, "y": {"datum": 17.1, "type": "quantitative", "axis": null}}}
 ]
},
{
 "width": 409, "height": 328,
 "layer": [
  {"data": {"name": "ptsB"},
   "mark": {"type": "point", "opacity": 1, "strokeWidth": 1.4},
   "encoding": {
    "x": {"field": "t", "type": "quantitative", "scale": {"type": "log", "domain": [0.2, 2], "nice": false},
          "axis": {"orient": "bottom", "values": [0.2,0.3,0.4,0.5,0.6,0.7,0.8,0.9,1,2], "labelExpr": "(datum.value==0.2||datum.value==0.4||datum.value==0.6||datum.value==0.8||datum.value==1||datum.value==2) ? format(datum.value,'.1f') : ''", "tickSize": -6, "labelPadding": 15, "labelFlush": false, "labelAlign": {"condition": {"test": "datum.value==2", "value": "right"}, "value": "center"}, "labelOffset": {"condition": {"test": "datum.value==2", "value": 7}, "value": 0}, "title": "τₛ", "titleFontSize": 21, "titlePadding": 8}},
    "y": {"field": "v", "type": "quantitative", "scale": {"domain": [0.3, 0.5], "nice": false, "zero": false},
          "axis": {"orient": "left", "values": [0.3,0.31,0.32,0.33,0.34,0.35,0.36,0.37,0.38,0.39,0.4,0.41,0.42,0.43,0.44,0.45,0.46,0.47,0.48,0.49,0.5], "labelExpr": "abs(datum.value*20-round(datum.value*20))<0.0001 ? format(datum.value,'.2f') : ''", "tickSize": {"condition": {"test": "abs(datum.value*20-round(datum.value*20))<0.0001", "value": -7}, "value": -4}, "labelPadding": 18, "title": "ρcv", "titleFontSize": 18, "titlePadding": 36}},
    "shape": {"field": "z", "type": "nominal", "scale": {"domain": ["5°N–0°","0°–5°S","5°S–11°S","11°S–20°S"], "range": ["M-1,-1L1,1M-1,1L1,-1","M-1,0L1,0M0,-1L0,1","circle","triangle-up"]}, "legend": null},
    "stroke": {"field": "z", "type": "nominal", "scale": {"domain": ["5°N–0°","0°–5°S","5°S–11°S","11°S–20°S"], "range": ["#5a3c8c","#d8232a","#e3a21a","#4d6b2f"]}, "legend": null},
    "fill": {"field": "z", "type": "nominal", "scale": {"domain": ["5°N–0°","0°–5°S","5°S–11°S","11°S–20°S"], "range": ["transparent","transparent","#e3a21a","transparent"]}, "legend": null},
    "size": {"field": "z", "type": "nominal", "scale": {"domain": ["5°N–0°","0°–5°S","5°S–11°S","11°S–20°S"], "range": [130,110,58,65]}, "legend": null}
   }},
  {"data": {"name": "linB"},
   "mark": {"type": "line", "color": "#1a1a1a", "clip": true, "interpolate": "monotone", "strokeCap": "butt"},
   "encoding": {
    "x": {"field": "t", "type": "quantitative", "scale": {"type": "log", "domain": [0.2, 2], "nice": false},
          "axis": {"orient": "top", "values": [0.2,0.3,0.4,0.5,0.6,0.7,0.8,0.9,1,2], "ticks": false, "labels": false, "domain": false, "title": null}},
    "y": {"field": "v", "type": "quantitative", "scale": {"domain": [0.3, 0.5], "nice": false, "zero": false},
          "axis": {"orient": "right", "values": [0.3,0.31,0.32,0.33,0.34,0.35,0.36,0.37,0.38,0.39,0.4,0.41,0.42,0.43,0.44,0.45,0.46,0.47,0.48,0.49,0.5], "labels": false, "title": null, "tickSize": {"condition": {"test": "abs(datum.value*20-round(datum.value*20))<0.0001", "value": -7}, "value": -4}}},
    "detail": {"field": "k"},
    "strokeDash": {"field": "k", "type": "nominal", "scale": {"domain": ["w10","w95","w90","w85"], "range": [[1,0],[10,6],[8,5],[3,7]]}, "legend": null},
    "strokeWidth": {"field": "k", "type": "nominal", "scale": {"domain": ["w10","w95","w90","w85"], "range": [2,2.2,2.2,3.5]}, "legend": null}
   }},
  {"data": {"values": [{}]},
   "mark": {"type": "text", "text": "B", "fontSize": 21, "fontWeight": "bold", "color": "#222222", "align": "center", "baseline": "middle"},
   "encoding": {"x": {"datum": 0.2226, "type": "quantitative", "axis": null}, "y": {"datum": 0.4847, "type": "quantitative", "axis": null}}},
  {"data": {"values": [{}]},
   "mark": {"type": "text", "text": "ωₛ = 1.0", "fontSize": 18, "color": "#333333", "align": "center", "baseline": "middle"},
   "encoding": {"x": {"datum": 1.10, "type": "quantitative", "axis": null}, "y": {"datum": 0.4853, "type": "quantitative", "axis": null}}},
  {"data": {"values": [{}]},
   "mark": {"type": "text", "text": "0.95", "fontSize": 18, "color": "#333333", "align": "center", "baseline": "middle"},
   "encoding": {"x": {"datum": 1.53, "type": "quantitative", "axis": null}, "y": {"datum": 0.4407, "type": "quantitative", "axis": null}}},
  {"data": {"values": [{}]},
   "mark": {"type": "text", "text": "0.90", "fontSize": 18, "color": "#333333", "align": "center", "baseline": "middle"},
   "encoding": {"x": {"datum": 1.56, "type": "quantitative", "axis": null}, "y": {"datum": 0.355, "type": "quantitative", "axis": null}}},
  {"data": {"values": [{}]},
   "mark": {"type": "text", "text": "0.85", "fontSize": 18, "color": "#333333", "align": "center", "baseline": "middle"},
   "encoding": {"x": {"datum": 1.40, "type": "quantitative", "axis": null}, "y": {"datum": 0.3135, "type": "quantitative", "axis": null}}}
 ]
}
]
}
